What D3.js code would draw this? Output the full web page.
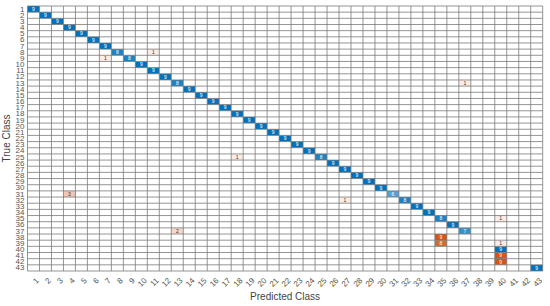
<!DOCTYPE html>
<html><head><meta charset="utf-8">
<script src="https://cdn.jsdelivr.net/npm/d3@7"></script>
<style>body{margin:0;background:#fff}svg{display:block}</style>
</head><body>
<svg id="c" width="550" height="306"></svg>
<script>
const classes = ["1","2","3","4","5","6","7","8","9","10","11","12","13","14","15","16","17","18","19","20","21","22","23","24","25","26","27","28","29","30","31","32","33","34","35","36","37","38","39","40","41","42","43"];
// diagonal (correct) counts per true class
const diagCounts = [9,9,9,9,9,9,9,8,8,9,9,9,8,9,9,9,9,9,9,9,9,9,9,9,8,9,9,9,9,9,6,8,9,9,8,9,7,0,0,9,0,0,9];
// off-diagonal (misclassified) entries
const offTrue  = ["8","9","13","25","31","32","35","37","38","39","39","41","42"];
const offPred  = ["11","7","37","18","4","27","40","13","35","35","40","40","40"];
const offCount = [1,1,1,1,3,1,1,2,9,8,1,9,9];
const xTitle = "Predicted Class";
const yTitle = "True Class";

const cells = [];
classes.forEach((c,i)=>{ if(diagCounts[i]>0) cells.push({t:c,p:c,v:diagCounts[i],diag:true}); });
offTrue.forEach((t,i)=>cells.push({t:t,p:offPred[i],v:offCount[i],diag:false}));

const svg = d3.select("#c");
const L=27.5, R=542.7, T=6, B=271;
const x = d3.scaleBand().domain(classes).range([L,R]);
const y = d3.scaleBand().domain(classes).range([T,B]);
const vmax = d3.max(cells,d=>d.v);
const diagCol = d3.scaleLinear().domain([0,vmax]).range(["#ffffff","#0072BD"]);
const offCol = d3.scaleLinear().domain([0,vmax]).range(["#ffffff","#D95319"]);

svg.append("g").selectAll("rect").data(cells).join("rect")
  .attr("x",d=>x(d.p)).attr("y",d=>y(d.t))
  .attr("width",x.bandwidth()).attr("height",y.bandwidth())
  .attr("fill",d=>d.diag?diagCol(d.v):offCol(d.v));

// grid
const g = svg.append("g").attr("stroke","#7a7a7a").attr("stroke-width",0.8);
classes.concat(["end"]).forEach((c,i)=>{
  const xv = i<classes.length? x(c): R;
  g.append("line").attr("x1",xv).attr("x2",xv).attr("y1",T).attr("y2",B);
  const yv = i<classes.length? y(c): B;
  g.append("line").attr("x1",L).attr("x2",R).attr("y1",yv).attr("y2",yv);
});

svg.append("g").selectAll("text").data(cells).join("text")
  .attr("x",d=>x(d.p)+x.bandwidth()/2).attr("y",d=>y(d.t)+y.bandwidth()/2)
  .attr("dy","0.35em").attr("text-anchor","middle")
  .attr("font-family","Liberation Sans, Arial, sans-serif").attr("font-size",5)
  .attr("fill",d=>d.v/vmax>0.5?"#ffffff":"#333333")
  .text(d=>d.v);

// axes
const ax = svg.append("g").attr("transform",`translate(0,${B})`)
  .call(d3.axisBottom(x).tickSize(0).tickPadding(0));
ax.select(".domain").remove();
ax.selectAll("text").attr("font-family","Liberation Sans, Arial, sans-serif").attr("font-size",8)
  .attr("fill","#555").attr("text-anchor","end")
  .attr("transform","translate(4,8) rotate(-45)").attr("dy","0.35em").attr("y",0);

const ay = svg.append("g").attr("transform",`translate(${L},0)`)
  .call(d3.axisLeft(y).tickSize(0).tickPadding(3));
ay.select(".domain").remove();
ay.selectAll("text").attr("font-family","Liberation Sans, Arial, sans-serif").attr("font-size",8).attr("fill","#555");

svg.append("text").attr("x",(L+R)/2).attr("y",300).attr("text-anchor","middle")
  .attr("font-family","Liberation Sans, Arial, sans-serif").attr("font-size",10).attr("fill","#444").text(xTitle);
svg.append("text").attr("transform",`translate(10,${(T+B)/2}) rotate(-90)`).attr("text-anchor","middle")
  .attr("font-family","Liberation Sans, Arial, sans-serif").attr("font-size",10).attr("fill","#444").text(yTitle);
</script>
</body></html>
